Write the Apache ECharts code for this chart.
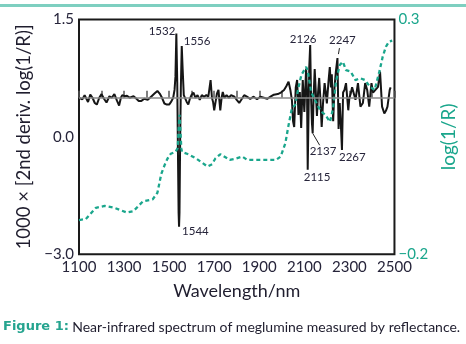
<!DOCTYPE html>
<html>
<head>
<meta charset="utf-8">
<script src="https://cdn.jsdelivr.net/npm/echarts@6/dist/echarts.min.js"></script>
<style>
  html, body { margin: 0; padding: 0; background: #fff; }
  #c { width: 466px; height: 344px; }
</style>
</head>
<body>
<div id="c"></div>
<script>
// Second-derivative spectrum, 1000 x d2[log(1/R)]
const derivNm = [
  1100, 1104, 1115, 1125, 1140, 1150, 1160, 1170, 1179, 1190, 1200, 1211, 1222, 1235, 1245,
  1257, 1268, 1278, 1286, 1292, 1303, 1313, 1325, 1342, 1355, 1365, 1377, 1390, 1405, 1420,
  1435, 1448, 1458, 1466, 1479, 1490, 1500, 1510, 1518, 1524, 1528, 1532, 1536, 1539, 1542,
  1544, 1546, 1549, 1552, 1556, 1560, 1565, 1571, 1578, 1585, 1592, 1599, 1608, 1617, 1626,
  1636, 1645, 1655, 1665, 1674, 1684, 1690, 1695, 1700, 1705, 1712, 1719, 1723, 1727, 1733,
  1738, 1745, 1755, 1765, 1775, 1790, 1800, 1811, 1818, 1826, 1833, 1845, 1860, 1875, 1890,
  1905, 1920, 1935, 1950, 1965, 1982, 1996, 2010, 2020, 2030, 2038, 2045, 2050, 2055, 2060,
  2062, 2068, 2074, 2080, 2086, 2093, 2100, 2108, 2112, 2115, 2119, 2122, 2126, 2130, 2134,
  2137, 2141, 2146, 2151, 2156, 2161, 2166, 2171, 2177, 2183, 2190, 2195, 2200, 2207, 2213,
  2218, 2222, 2228, 2234, 2240, 2247, 2252, 2257, 2262, 2267, 2272, 2278, 2285, 2295, 2300,
  2306, 2312, 2318, 2327, 2338, 2349, 2360, 2370, 2379, 2388, 2398, 2405, 2412, 2427, 2436,
  2445, 2455, 2462, 2469, 2479, 2483
];
const derivVal = [
  0.00, 0.02, -0.03, 0.05, -0.08, 0.06, 0.00, -0.10, -0.13, 0.00, 0.07, -0.02, -0.09, 0.03, 0.00,
  0.07, -0.05, -0.15, 0.00, 0.05, 0.03, 0.04, 0.00, 0.03, -0.02, -0.06, -0.06, -0.02, -0.04, 0.02,
  0.08, 0.13, 0.08, 0.02, -0.11, -0.13, -0.13, -0.07, 0.00, 0.15, 0.40, 1.23, 0.30, -1.00, -2.20,
  -2.47, -2.20, -0.80, 0.20, 0.99, 0.55, 0.05, 0.05, -0.08, -0.13, -0.02, 0.05, 0.10, 0.00, 0.05,
  -0.04, 0.05, 0.02, 0.05, 0.02, 0.34, 0.00, -0.08, -0.24, -0.27, 0.08, 0.15, -0.05, -0.24, 0.00,
  0.11, 0.00, 0.05, 0.00, 0.05, 0.02, -0.04, -0.10, -0.11, 0.00, 0.05, 0.02, -0.02, 0.02, -0.03,
  0.02, 0.00, -0.02, 0.02, 0.06, 0.07, 0.10, 0.15, 0.22, 0.31, 0.15, -0.05, -0.45, -0.56, 0.00,
  0.20, 0.34, -0.33, 0.11, -0.58, 0.34, -0.27, 0.56, 0.10, -1.38, -0.20, 0.60, 1.01, 0.00, -0.50,
  -0.68, 0.00, 0.55, 0.10, -0.35, 0.10, 0.38, 0.00, -0.56, -0.10, 0.28, 0.10, -0.11, 0.30, 0.59,
  0.20, 0.45, -0.45, 0.20, 0.50, 0.76, -0.60, -0.10, -0.50, -1.00, 0.10, 0.15, 0.28, -0.24, 0.00,
  0.08, 0.20, 0.21, -0.04, 0.28, -0.17, -0.10, 0.28, 0.15, -0.17, 0.28, 0.10, 0.08, 0.21, 0.50,
  -0.17, -0.30, -0.25, -0.17, 0.15, 0.20
];

// Reflectance spectrum, log(1/R)
const logNm = [
  1100, 1130, 1175, 1214, 1257, 1312, 1342, 1384, 1427, 1448, 1465, 1480, 1493, 1507, 1528,
  1538, 1542, 1546, 1550, 1554, 1557, 1585, 1620, 1670, 1691, 1705, 1727, 1769, 1797, 1825,
  1847, 1889, 1974, 1995, 2016, 2030, 2045, 2059, 2073, 2087, 2108, 2115, 2130, 2151, 2172,
  2193, 2214, 2228, 2240, 2257, 2271, 2285, 2306, 2327, 2348, 2370, 2391, 2412, 2433, 2448,
  2462, 2476, 2490
];
const logVal = [
  -0.127, -0.125, -0.101, -0.097, -0.101, -0.111, -0.108, -0.087, -0.083, -0.069, -0.029, -0.010, 0.004, 0.014, 0.018,
  0.026, 0.065, 0.097, 0.065, 0.026, 0.018, 0.013, 0.004, -0.013, -0.008, 0.004, 0.013, 0.001, 0.004, 0.008,
  0.001, 0.001, 0.001, 0.008, 0.037, 0.075, 0.111, 0.118, 0.153, 0.182, 0.199, 0.192, 0.146, 0.125, 0.105,
  0.097, 0.082, 0.112, 0.167, 0.203, 0.210, 0.192, 0.189, 0.171, 0.175, 0.171, 0.157, 0.150, 0.189, 0.221,
  0.242, 0.253, 0.255
];

const leftTickLabels = ['\u22123.0', '0.0', '1.5'];
const rightTickLabels = ['\u22120.2', '0.3'];
const bandLabels = [1532, 1556, 1544, 2126, 2247, 2115, 2137, 2267];

const FONT = 'Lato, "Open Sans", sans-serif';
const INK = '#26243a';
const TEAL = '#1aa68c';

const chart = echarts.init(document.getElementById('c'), null, { renderer: 'canvas' });

const zip = (xs, ys) => xs.map((x, i) => [x, ys[i]]);

chart.setOption({
  animation: false,
  grid: {
    left: 79, right: 57, top: 19.5, bottom: 89.7,
    show: true, borderColor: '#1a1a1a', borderWidth: 2, backgroundColor: 'transparent'
  },
  xAxis: {
    type: 'value', min: 1100, max: 2500, interval: 100,
    axisLine: { show: false },
    splitLine: { show: false },
    axisTick: { inside: true, length: 7, lineStyle: { color: '#555', width: 1.5 } },
    axisLabel: {
      formatter: v => ((v - 1100) % 200 === 0 ? String(v) : ''),
      color: INK, fontSize: 15, fontFamily: FONT, margin: 5
    },
    name: 'Wavelength/nm', nameLocation: 'middle', nameGap: 28,
    nameTextStyle: { color: '#1f1d2e', fontSize: 18, fontFamily: FONT }
  },
  yAxis: [
    {
      type: 'value', min: -3, max: 1.5, interval: 2.25,
      axisLine: { show: false }, axisTick: { show: false }, splitLine: { show: false },
      axisLabel: {
        formatter: (v, i) => leftTickLabels[i],
        color: INK, fontSize: 15, fontFamily: FONT, margin: 5
      },
      name: '1000 \u00d7 [2nd deriv. log(1/R)]', nameLocation: 'middle', nameGap: 30, nameRotate: 90,
      nameTextStyle: { color: '#1f1d2e', fontSize: 18.5, fontFamily: FONT }
    },
    {
      type: 'value', min: -0.2, max: 0.3, interval: 0.5, position: 'right',
      axisLine: { show: false }, axisTick: { show: false }, splitLine: { show: false },
      axisLabel: {
        formatter: (v, i) => rightTickLabels[i],
        color: TEAL, fontSize: 15, fontFamily: FONT, margin: 4
      },
      name: 'log(1/R)', nameLocation: 'middle', nameGap: 21, nameRotate: 90,
      nameTextStyle: { color: TEAL, fontSize: 19, fontFamily: FONT }
    }
  ],
  series: [
    {
      name: 'deriv', type: 'line', yAxisIndex: 0, data: zip(derivNm, derivVal),
      symbol: 'none', lineStyle: { color: '#161616', width: 2 }, z: 3,
      markLine: {
        silent: true, symbol: 'none', label: { show: false },
        lineStyle: { color: '#8a8a8a', width: 1.5, type: 'solid' },
        data: [{ yAxis: 0 }]
      }
    },
    {
      name: 'log', type: 'line', yAxisIndex: 1, data: zip(logNm, logVal),
      symbol: 'none', z: 4,
      lineStyle: { color: TEAL, width: 2.3, type: [4, 3] }
    }
  ]
});

// Band annotations anchored to their extrema in the derivative trace
const labelLayout = {
  1532: { dx: -1, dy: -2, align: 'right' },
  1556: { dx: 2, dy: -5, align: 'left' },
  1544: { dx: 3, dy: 5, align: 'left' },
  2126: { dx: -7, dy: -6, align: 'center' },
  2247: { dx: 5, dy: -18, align: 'center', lead: [[1, -4], [2, -10]] },
  2115: { dx: -4, dy: 8, align: 'left' },
  2137: { dx: -3, dy: 18, align: 'left', lead: [[0, 0], [7, 12]] },
  2267: { dx: -3, dy: 7, align: 'left' }
};

const graphics = [
  { type: 'rect', shape: { x: 0, y: 4, width: 466, height: 3 }, style: { fill: '#7ecfc0' }, silent: true },
  {
    type: 'text', x: 3, y: 327,
    style: {
      text: '{a|Figure 1:} {b|Near-infrared spectrum of meglumine measured by reflectance.}',
      textVerticalAlign: 'middle',
      rich: {
        a: { fill: '#25a48f', fontWeight: 'bold', fontSize: 13, fontFamily: '"DejaVu Sans", sans-serif' },
        b: { fill: '#1f1d2e', fontSize: 14, fontFamily: FONT }
      }
    }
  }
];

bandLabels.forEach(nm => {
  const idx = derivNm.indexOf(nm);
  const p = chart.convertToPixel({ xAxisIndex: 0, yAxisIndex: 0 }, [nm, derivVal[idx]]);
  const L = labelLayout[nm];
  graphics.push({
    type: 'text', x: p[0] + L.dx, y: p[1] + L.dy, z: 10,
    style: { text: String(nm), fill: INK, fontSize: 11.5, fontFamily: FONT, textAlign: L.align, textVerticalAlign: 'middle' }
  });
  if (L.lead) {
    graphics.push({
      type: 'line', z: 10,
      shape: { x1: p[0] + L.lead[0][0], y1: p[1] + L.lead[0][1], x2: p[0] + L.lead[1][0], y2: p[1] + L.lead[1][1] },
      style: { stroke: '#222', lineWidth: 1 }
    });
  }
});

chart.setOption({ graphic: graphics });
</script>
</body>
</html>
